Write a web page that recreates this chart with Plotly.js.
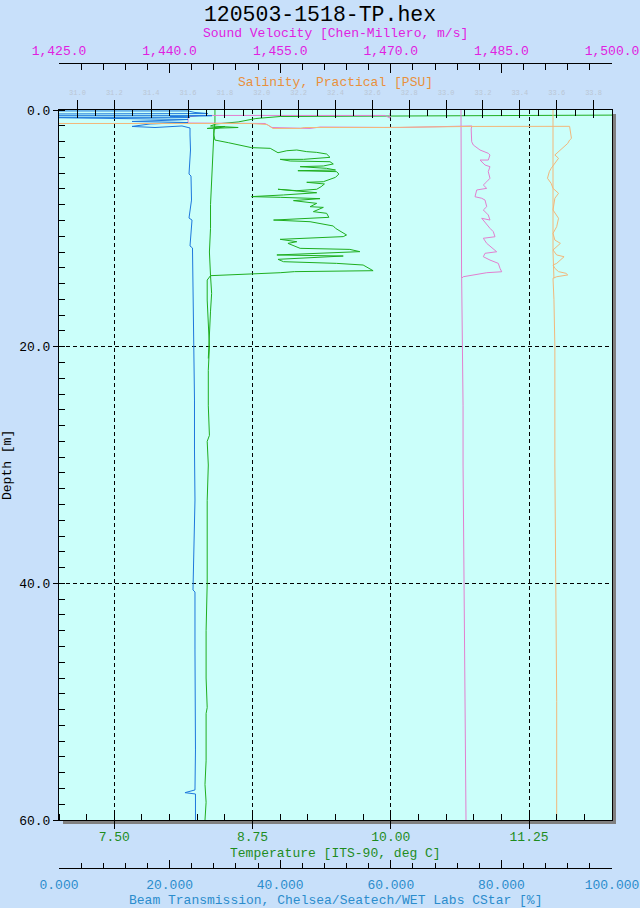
<!DOCTYPE html>
<html><head><meta charset="utf-8">
<script src="https://cdn.plot.ly/plotly-3.0.1.min.js"></script>
<style>html,body{margin:0;padding:0;background:#c8e0fa;}#chart{width:640px;height:908px;}</style>
</head><body><div id="chart"></div>
<script>
// ---------------- DATA ----------------
// Temperature [ITS-90, deg C] – main cast
const tempCastT = [12.80,9.00,8.78,8.62,8.42,8.37,8.62,8.34,8.50,8.40,8.40,8.41,
 8.53,8.74,8.91,8.98,9.06,9.15,9.24,9.33,9.42,9.45,9.21,9.00,9.09,9.45,9.48,9.39,9.18,9.42,
 9.50,9.16,9.51,9.53,9.50,9.45,9.39,9.24,9.40,9.37,9.33,9.15,8.98,9.21,9.33,9.03,8.74,9.00,
 9.36,9.12,9.27,9.33,9.27,9.39,9.30,9.42,9.44,8.94,9.27,9.48,9.50,9.60,9.57,9.00,9.15,9.07,
 9.18,9.63,9.72,9.33,8.97,9.57,8.98,9.03,9.51,9.75,9.84,9.13,9.00,8.37,8.34,
 8.34,8.35,8.36,8.35,8.35,8.36,8.34,8.35,8.34,8.34,8.34,8.33,8.33,8.34,8.33,8.33,8.32,8.33,8.32];
const tempCastD = [0.40,0.55,0.72,1.01,1.18,1.35,1.48,1.56,1.39,1.61,2.11,2.54,
 2.76,3.18,3.24,3.61,3.44,3.38,3.52,3.58,3.72,4.00,4.17,4.17,4.31,4.37,4.56,4.73,4.79,4.93,
 5.07,5.13,5.21,5.41,5.69,5.86,6.06,6.11,6.25,6.48,6.70,6.82,6.70,6.90,6.99,7.18,7.32,7.38,
 7.49,7.66,7.83,7.89,8.17,8.23,8.59,8.73,9.07,9.30,9.44,9.80,10.00,10.56,10.70,10.93,11.13,11.27,
 11.69,11.78,11.97,12.11,12.25,12.34,12.62,12.82,12.96,13.10,13.58,13.66,13.75,14.00,14.37,
 16.06,18.0,20.0,22.0,25.0,27.5,28.0,30.0,33.0,36.0,40.0,44.0,48.0,50.5,51.0,55.0,57.0,58.5,60.0];
// Temperature – soak strand
const tempSoakT = [8.41,8.41,8.40,8.39,8.38,8.37,8.37,8.36,8.37,8.38,8.37,8.36,8.35];
const tempSoakD = [0.0,1.0,2.0,4.0,6.0,8.0,10.0,12.0,14.0,15.5,17.0,19.0,21.0];

// Sound Velocity [Chen-Millero, m/s]
const svCastV = [1469.89,1469.89,1469.21,1444.12,1442.50,1442.50,1452.94,1453.89,1459.04,1460.40,1471.25,1479.52,1481.01,
 1480.90,1480.97,1481.19,1482.10,1483.22,1483.45,1483.22,1482.10,1482.78,1483.45,1483.22,1483.45,1483.01,1482.55,1483.01,
 1481.65,1481.42,1482.33,1482.78,1483.01,1482.55,1483.22,1483.45,1482.33,1483.45,1483.90,1484.13,1482.55,1483.01,1484.36,
 1482.78,1482.55,1483.45,1484.58,1484.81,1485.04,1483.01,1479.83,1479.61,
 1479.66,1479.75,1479.80,1479.80,1479.85,1479.95,1480.00,1480.05,1480.10,1480.20];
const svCastD = [0.25,0.68,0.46,0.46,0.59,1.10,1.14,1.48,1.56,1.44,1.48,1.39,1.35,
 1.60,2.68,2.96,3.38,3.66,3.80,4.23,4.23,4.65,4.79,5.21,5.77,6.06,6.34,6.62,
 6.76,7.33,7.46,7.61,8.17,8.45,8.87,9.30,9.15,10.00,10.28,10.71,10.84,11.27,11.98,
 12.11,12.40,12.68,12.96,13.38,13.67,13.75,14.09,14.22,
 16.1,20.0,25.0,30.0,35.0,40.0,45.0,50.0,55.0,60.0];
const svSoakV = [1479.52,1479.52,1479.50,1479.55,1479.50,1479.60];
const svSoakD = [0.0,3.0,6.0,9.0,12.0,14.22];

// Salinity, Practical [PSU]
const salCastS = [30.74,31.15,31.94,32.03,32.06,32.21,32.23,32.42,32.67,33.13,33.67,33.68,33.67,33.66,33.65,33.62,33.60,33.59,
 33.61,33.58,33.57,33.56,33.55,33.57,33.58,33.61,33.59,33.58,33.61,33.60,33.58,33.59,33.62,33.58,33.60,33.64,
 33.60,33.58,33.59,33.61,33.65,33.66,33.60,33.58,33.585,33.59,33.59,33.595,33.60,33.60];
const salCastD = [1.14,1.14,1.14,1.23,1.56,1.56,1.48,1.48,1.48,1.39,1.38,2.40,2.54,2.82,2.96,3.38,3.66,3.80,
 4.08,4.65,4.93,5.21,5.77,6.20,6.62,7.04,7.46,8.45,9.15,9.86,10.42,10.99,11.27,11.83,12.25,12.40,
 12.96,13.10,13.38,13.66,13.80,13.94,14.09,14.22,16.0,20.0,30.0,40.0,50.0,60.0];
const salSoakS = [33.58,33.58,33.58,33.58,33.585];
const salSoakD = [0.0,4.0,8.0,12.0,14.22];

// Beam Transmission, Chelsea/Seatech/WET Labs CStar [%]
const beamT = [-5.2,23.33,24.59,26.94,-5.2,-5.2,27.67,20.07,23.69,-5.2,17.36,23.33,20.98,13.20,23.33,16.46,13.20,17.36,22.24,23.69,
 23.69,23.78,23.51,23.87,23.96,23.51,24.05,23.69,24.14,24.23,24.32,24.41,24.50,24.50,24.59,24.23,24.59,24.59,24.68,24.68,
 24.59,22.78,24.68,24.68];
const beamD = [0.08,0.08,0.21,0.30,0.34,0.48,0.48,0.55,0.62,0.62,0.76,0.80,0.85,0.97,1.06,1.18,1.39,1.48,1.35,1.52,
 2.11,3.38,5.41,5.58,7.61,9.13,9.30,11.49,11.66,14.37,16.06,20.28,24.51,28.73,32.96,40.56,40.73,45.63,49.86,54.08,
 57.46,57.69,57.80,60.0];

// Axis settings
const chartTitle = '120503-1518-TP.hex';
const depthRange = [60, 0];
const tempRange = [7, 12];
const svRange = [1425, 1500];
const salRange = [30.9, 33.9];
const beamRange = [0, 100];

// ---------------- LAYOUT ----------------
const W = 640, H = 908;
const px = v => v / W, py = v => 1 - v / H;
const FONT = 'Liberation Mono, DejaVu Sans Mono, monospace';
const COL = {
  bg: '#c8e0fa', plot: '#cbfffa',
  svLab: '#e020e0', svLine: '#e27fcf',
  salLab: '#e8903c', salLine: '#f2b77a',
  tLab: '#1e8c1e', tLine: '#1fae1f',
  bLab: '#2b8ccc', bLine: '#1e78dc'
};
const dom = [px(59), px(612)];
const cx = px(335.5);

const line = (x, y, xa, color) => ({x, y, xaxis: xa, yaxis: 'y', type: 'scatter', mode: 'lines',
  line: {color, width: 1}, hoverinfo: 'skip', showlegend: false, connectgaps: false});

const traces = [
  line(salCastS, salCastD, 'x4', COL.salLine),
  line(salSoakS, salSoakD, 'x5', COL.salLine),
  line(svCastV, svCastD, 'x2', COL.svLine),
  line(svSoakV, svSoakD, 'x2', COL.svLine),
  line(tempCastT, tempCastD, 'x', COL.tLine),
  line(tempSoakT, tempSoakD, 'x', COL.tLine),
  line(beamT, beamD, 'x3', COL.bLine)
];

const ann = (text, x, y, color, extra) => Object.assign({text, x, y, xref: 'paper', yref: 'paper',
  xanchor: 'center', yanchor: 'middle', showarrow: false, font: {family: FONT, size: 13, color}}, extra || {});

const layout = {
  width: W, height: H, margin: {l: 0, r: 0, t: 0, b: 0},
  paper_bgcolor: COL.bg, plot_bgcolor: COL.plot, showlegend: false, hovermode: false,
  title: {text: chartTitle, font: {family: FONT, size: 21.5, color: '#000'},
    x: 0.5, xref: 'container', xanchor: 'center', y: 1 - 13 / H, yref: 'container', yanchor: 'middle'},
  xaxis: {domain: dom, anchor: 'y', range: tempRange, tick0: 7.5, dtick: 1.25, tickformat: '.2f',
    ticks: 'outside', ticklen: 8, tickcolor: '#000', tickwidth: 1, ticklabelstandoff: -4,
    tickfont: {family: FONT, size: 13, color: COL.tLab},
    showgrid: true, gridcolor: '#000', griddash: '4px,3px', gridwidth: 1,
    showline: true, linecolor: '#000', linewidth: 1, mirror: true, zeroline: false,
    minor: {tick0: 7, dtick: 0.25, ticks: 'inside', ticklen: 6, tickcolor: '#000', tickwidth: 1, showgrid: false},
    automargin: false, fixedrange: true},
  yaxis: {domain: [py(820), py(110)], anchor: 'x', range: depthRange, tick0: 0, dtick: 20, tickformat: '.1f',
    ticks: 'outside', ticklen: 5, tickcolor: '#000', tickwidth: 1,
    tickfont: {family: FONT, size: 13, color: '#000'},
    showgrid: true, gridcolor: '#000', griddash: '4px,3px', gridwidth: 1,
    showline: true, linecolor: '#000', linewidth: 1, mirror: true, zeroline: false,
    minor: {tick0: 0, dtick: 4 / 3, ticks: 'inside', ticklen: 6, tickcolor: '#000', tickwidth: 1, showgrid: false},
    automargin: false, fixedrange: true},
  xaxis2: {overlaying: 'x', anchor: 'free', position: py(62.5), side: 'top', domain: dom,
    range: svRange, tick0: 1425, dtick: 15, tickformat: ',.1f',
    ticks: 'inside', ticklen: 9, tickcolor: '#000', tickwidth: 1, ticklabelstandoff: 2,
    tickfont: {family: FONT, size: 13, color: COL.svLab},
    minor: {tick0: 1425, dtick: 3, ticks: 'inside', ticklen: 6, tickcolor: '#000', tickwidth: 1, showgrid: false},
    showline: true, linecolor: '#000', linewidth: 1, showgrid: false, zeroline: false, automargin: false},
  xaxis3: {overlaying: 'x', anchor: 'free', position: py(868.3), side: 'bottom', domain: dom,
    range: beamRange, tick0: 0, dtick: 20, tickformat: '.3f',
    ticks: 'inside', ticklen: 8, tickcolor: '#000', tickwidth: 1, ticklabelstandoff: 4,
    tickfont: {family: FONT, size: 13, color: COL.bLab},
    minor: {tick0: 0, dtick: 4, ticks: 'inside', ticklen: 5, tickcolor: '#000', tickwidth: 1, showgrid: false},
    showline: true, linecolor: '#000', linewidth: 1, showgrid: false, zeroline: false, automargin: false},
  xaxis4: {overlaying: 'x', anchor: 'y', side: 'top', domain: dom, range: salRange, tick0: 31, dtick: 0.2,
    tickformat: '.1f', ticks: 'outside', ticklen: 9, tickcolor: '#000', tickwidth: 1, ticklabelstandoff: 2,
    tickfont: {family: FONT, size: 7, color: '#bac6d4'},
    showline: false, showgrid: false, zeroline: false, automargin: false},
  xaxis5: {overlaying: 'x', anchor: 'y', side: 'top', domain: dom, range: salRange, tick0: 31, dtick: 0.2,
    ticks: 'inside', ticklen: 8, tickcolor: '#000', tickwidth: 1, showticklabels: false,
    minor: {tick0: 31, dtick: 0.1, ticks: 'inside', ticklen: 6, tickcolor: '#000', tickwidth: 1, showgrid: false},
    showline: false, showgrid: false, zeroline: false, automargin: false},
  shapes: [
    {type: 'rect', xref: 'paper', yref: 'paper', x0: px(612), x1: px(616), y0: py(824), y1: py(114),
      fillcolor: '#808080', line: {width: 0}, layer: 'below'},
    {type: 'rect', xref: 'paper', yref: 'paper', x0: px(63), x1: px(616), y0: py(824), y1: py(820.5),
      fillcolor: '#808080', line: {width: 0}, layer: 'below'}
  ],
  annotations: [
    ann('Sound Velocity [Chen-Millero, m/s]', cx, py(34), COL.svLab),
    ann('Salinity, Practical [PSU]', cx, py(82), COL.salLab),
    ann('Temperature [ITS-90, deg C]', cx, py(853), COL.tLab),
    ann('Beam Transmission, Chelsea/Seatech/WET Labs CStar [%]', cx, py(900), COL.bLab),
    ann('Depth [m]', px(7), py(465), '#000', {textangle: -90})
  ]
};

Plotly.newPlot('chart', traces, layout, {staticPlot: true, displayModeBar: false});
</script>
</body></html>
